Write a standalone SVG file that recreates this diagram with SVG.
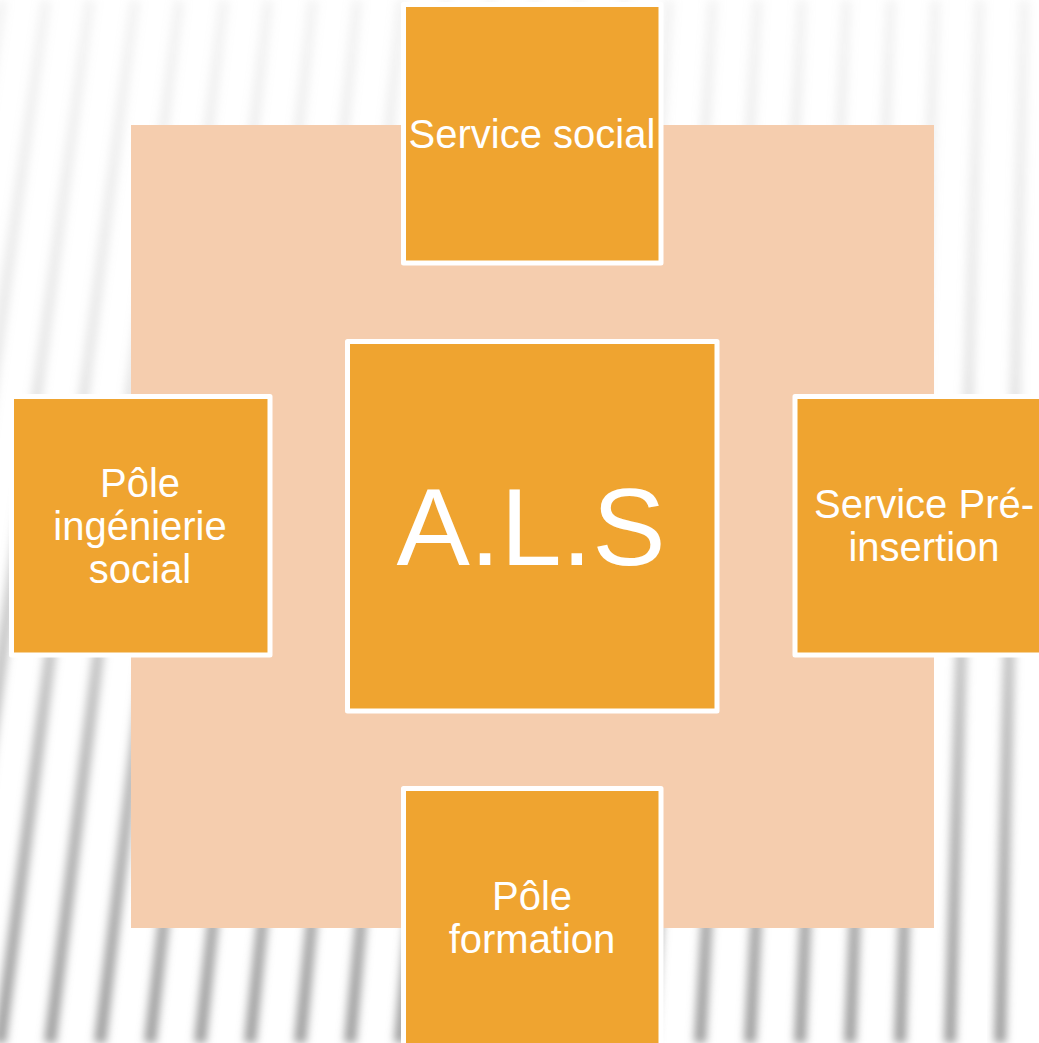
<svg xmlns="http://www.w3.org/2000/svg" width="1039" height="1043" viewBox="0 0 1039 1043">
<defs>
<style>
.node{fill:#EFA430;stroke:#FFFFFF;stroke-width:5;stroke-linejoin:round}
.lbl{font-family:"Liberation Sans",Arial,sans-serif;font-size:40px;fill:#FFFFFF;text-anchor:middle}
.big{font-family:"Liberation Sans",Arial,sans-serif;font-size:110px;fill:#FFFFFF;text-anchor:middle}
.stripe{fill:none;stroke:url(#stripeGrad);stroke-width:12;filter:url(#soft)}
</style>
<linearGradient id="stripeGrad" gradientUnits="userSpaceOnUse" x1="0" y1="0" x2="0" y2="1043">
<stop offset="0" stop-color="#a8a8a8" stop-opacity="0.12"/>
<stop offset="0.35" stop-color="#a8a8a8" stop-opacity="0.25"/>
<stop offset="0.7" stop-color="#a0a0a0" stop-opacity="0.7"/>
<stop offset="1" stop-color="#999999" stop-opacity="0.95"/>
</linearGradient>
<filter id="soft" x="-50%" y="-5%" width="200%" height="110%">
<feGaussianBlur stdDeviation="4"/>
</filter>
</defs>
<rect id="background" x="0" y="0" width="1039" height="1043" fill="#FFFFFF"/>
<g id="stripes">
<path class="stripe" d="M-150 1043L1.6 0"/>
<path class="stripe" d="M-100 1043L46 0"/>
<path class="stripe" d="M-50 1043L90 0"/>
<path class="stripe" d="M0 1043L135 0"/>
<path class="stripe" d="M50 1043L179.5 0"/>
<path class="stripe" d="M100 1043L224 0"/>
<path class="stripe" d="M150 1043L268.4 0"/>
<path class="stripe" d="M200 1043L312.9 0"/>
<path class="stripe" d="M250 1043L357.3 0"/>
<path class="stripe" d="M300 1043L401.8 0"/>
<path class="stripe" d="M350 1043L446.3 0"/>
<path class="stripe" d="M400 1043L490.7 0"/>
<path class="stripe" d="M450 1043L535.2 0"/>
<path class="stripe" d="M500 1043L579.6 0"/>
<path class="stripe" d="M550 1043L624.1 0"/>
<path class="stripe" d="M600 1043L668.6 0"/>
<path class="stripe" d="M650 1043L713 0"/>
<path class="stripe" d="M700 1043L757.5 0"/>
<path class="stripe" d="M750 1043L802 0"/>
<path class="stripe" d="M800 1043L846.4 0"/>
<path class="stripe" d="M850 1043L890.9 0"/>
<path class="stripe" d="M900 1043L935.4 0"/>
<path class="stripe" d="M950 1043L979.8 0"/>
<path class="stripe" d="M1000 1043L1024.3 0"/>
<path class="stripe" d="M1050 1043L1068.8 0"/>
</g>
<rect id="backdrop" x="131" y="125" width="803" height="803" fill="#F5CDAE"/>
<g id="connectors"></g>
<g id="node-service-social">
<rect class="node" x="403.5" y="4.5" width="257.5" height="258.5"/>
<text class="lbl" x="532" y="148">Service social</text>
</g>
<g id="node-pole-ingenierie">
<rect class="node" x="11.5" y="396.5" width="258.5" height="258.5"/>
<text class="lbl" x="140" y="497">Pôle</text>
<text class="lbl" x="140" y="540">ingénierie</text>
<text class="lbl" x="140" y="583">social</text>
</g>
<g id="node-service-preinsertion">
<rect class="node" x="795" y="396.5" width="258.5" height="258.5"/>
<text class="lbl" x="924" y="518">Service Pré-</text>
<text class="lbl" x="924" y="561">insertion</text>
</g>
<g id="node-pole-formation">
<rect class="node" x="403.5" y="788.5" width="257.5" height="258.5"/>
<text class="lbl" x="532" y="910">Pôle</text>
<text class="lbl" x="532" y="953">formation</text>
</g>
<g id="node-als">
<rect class="node" x="347.5" y="341.5" width="369.5" height="369.5"/>
<text class="big" x="531" y="565">A.L.S</text>
</g>
</svg>
